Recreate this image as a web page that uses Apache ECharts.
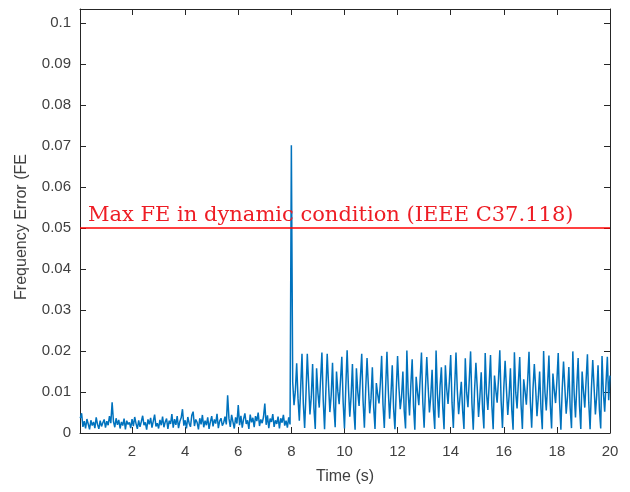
<!DOCTYPE html>
<html>
<head>
<meta charset="utf-8">
<script src="https://cdn.jsdelivr.net/npm/echarts@6/dist/echarts.min.js"></script>
<style>
  html, body { margin: 0; padding: 0; background: #fff; }
  #chart { width: 630px; height: 492px; }
</style>
</head>
<body>
<div id="chart"></div>
<script>
// sampling of the recorded trace
var T0 = 0.05;
var DT = 0.05;

// frequency error before the step (0 - 8 s)
var fePre = [
  0.0036, 0.0048, 0.0015, 0.0029, 0.0011, 0.0034, 0.0022, 0.0009, 0.0031, 0.0018,
  0.0027, 0.0012, 0.0038, 0.0021, 0.0010, 0.0030, 0.0016, 0.0025, 0.0033, 0.0013,
  0.0029, 0.0019, 0.0041, 0.0024, 0.0075, 0.0028, 0.0014, 0.0036, 0.0020, 0.0032,
  0.0011, 0.0027, 0.0018, 0.0035, 0.0009, 0.0030, 0.0021, 0.0026, 0.0012, 0.0034,
  0.0017, 0.0039, 0.0023, 0.0010, 0.0031, 0.0015, 0.0028, 0.0042, 0.0019, 0.0026,
  0.0008, 0.0033, 0.0021, 0.0037, 0.0013, 0.0029, 0.0045, 0.0016, 0.0024, 0.0011,
  0.0032, 0.0019, 0.0040, 0.0014, 0.0027, 0.0035, 0.0010, 0.0030, 0.0022, 0.0046,
  0.0013, 0.0034, 0.0020, 0.0041, 0.0012, 0.0028, 0.0037, 0.0058, 0.0018, 0.0031,
  0.0011, 0.0039, 0.0024, 0.0015, 0.0043, 0.0052, 0.0017, 0.0033, 0.0026, 0.0009,
  0.0036, 0.0021, 0.0044, 0.0014, 0.0030, 0.0019, 0.0038, 0.0010, 0.0027, 0.0041,
  0.0016, 0.0033, 0.0023, 0.0047, 0.0012, 0.0029, 0.0036, 0.0018, 0.0025, 0.0040,
  0.0021, 0.0092, 0.0035, 0.0015, 0.0044, 0.0027, 0.0011, 0.0038, 0.0023, 0.0068,
  0.0019, 0.0042, 0.0013, 0.0034, 0.0048, 0.0022, 0.0031, 0.0010, 0.0045, 0.0026,
  0.0037, 0.0014, 0.0041, 0.0029, 0.0050, 0.0017, 0.0033, 0.0024, 0.0039, 0.0072,
  0.0020, 0.0043, 0.0012, 0.0035, 0.0027, 0.0046, 0.0015, 0.0031, 0.0022, 0.0040,
  0.0011, 0.0036, 0.0025, 0.0044, 0.0018, 0.0030, 0.0013, 0.0038, 0.0021
];

// transient at the step (t = 8 s)
var feStep = [0.0702];

// frequency error after the step (8 - 20 s)
var fePost = [
  0.0125, 0.0068, 0.0102, 0.0170, 0.0085, 0.0030, 0.0110, 0.0193, 0.0072, 0.0012,
  0.0095, 0.0193, 0.0120, 0.0045, 0.0088, 0.0168, 0.0060, 0.0010, 0.0158, 0.0098,
  0.0062, 0.0130, 0.0196, 0.0080, 0.0009, 0.0105, 0.0193, 0.0118, 0.0051, 0.0092,
  0.0171, 0.0064, 0.0014, 0.0150, 0.0102, 0.0070, 0.0128, 0.0186, 0.0075, 0.0011,
  0.0112, 0.0202, 0.0110, 0.0040, 0.0090, 0.0168, 0.0058, 0.0008, 0.0158, 0.0101,
  0.0066, 0.0135, 0.0193, 0.0078, 0.0013, 0.0108, 0.0183, 0.0115, 0.0048, 0.0085,
  0.0160, 0.0062, 0.0010, 0.0122, 0.0095, 0.0072, 0.0120, 0.0188, 0.0070, 0.0012,
  0.0110, 0.0198, 0.0105, 0.0035, 0.0092, 0.0165, 0.0060, 0.0009, 0.0104, 0.0188,
  0.0112, 0.0058, 0.0088, 0.0150, 0.0054, 0.0011, 0.0201, 0.0098, 0.0043, 0.0118,
  0.0180, 0.0066, 0.0008, 0.0137, 0.0100, 0.0068, 0.0132, 0.0196, 0.0075, 0.0013,
  0.0109, 0.0185, 0.0114, 0.0050, 0.0090, 0.0154, 0.0058, 0.0010, 0.0201, 0.0096,
  0.0037, 0.0115, 0.0160, 0.0064, 0.0009, 0.0165, 0.0108, 0.0071, 0.0126, 0.0190,
  0.0074, 0.0012, 0.0112, 0.0196, 0.0103, 0.0046, 0.0087, 0.0125, 0.0055, 0.0010,
  0.0182, 0.0099, 0.0063, 0.0130, 0.0199, 0.0072, 0.0008, 0.0106, 0.0171, 0.0110,
  0.0039, 0.0089, 0.0148, 0.0060, 0.0011, 0.0195, 0.0097, 0.0056, 0.0120, 0.0190,
  0.0068, 0.0009, 0.0140, 0.0104, 0.0074, 0.0131, 0.0202, 0.0078, 0.0012, 0.0110,
  0.0176, 0.0107, 0.0044, 0.0091, 0.0158, 0.0057, 0.0008, 0.0197, 0.0099, 0.0060,
  0.0124, 0.0185, 0.0069, 0.0010, 0.0131, 0.0102, 0.0069, 0.0129, 0.0198, 0.0076,
  0.0013, 0.0108, 0.0168, 0.0109, 0.0041, 0.0088, 0.0150, 0.0059, 0.0009, 0.0200,
  0.0100, 0.0055, 0.0118, 0.0189, 0.0070, 0.0011, 0.0145, 0.0105, 0.0073, 0.0127,
  0.0195, 0.0077, 0.0008, 0.0107, 0.0174, 0.0111, 0.0047, 0.0090, 0.0161, 0.0061,
  0.0012, 0.0199, 0.0097, 0.0038, 0.0116, 0.0183, 0.0067, 0.0010, 0.0150, 0.0103,
  0.0062, 0.0128, 0.0192, 0.0074, 0.0009, 0.0108, 0.0178, 0.0112, 0.0045, 0.0092,
  0.0165, 0.0058, 0.0011, 0.0188, 0.0098, 0.0052, 0.0121, 0.0186, 0.0080, 0.0140
];

// limit line
var feLimit = 0.05;
var limitText = 'Max FE in dynamic condition (IEEE C37.118)';

// axis ticks
var xTicks = [2, 4, 6, 8, 10, 12, 14, 16, 18, 20];
var yTicks = [0, 0.01, 0.02, 0.03, 0.04, 0.05, 0.06, 0.07, 0.08, 0.09, 0.1];
var xMin = 0.04, xMax = 20;
var yMin = 0, yMax = 0.1034;

var feAll = fePre.concat(feStep, fePost);
var seriesData = feAll.map(function (v, i) {
  return [T0 + i * DT, v];
});

var axisColor = '#262626';
var labelColor = '#404040';

var chart = echarts.init(document.getElementById('chart'), null, { renderer: 'canvas' });

var tickStyle = { show: true, inside: true, length: 6, lineStyle: { color: axisColor, width: 1 } };

var option = {
  backgroundColor: '#fff',
  animation: false,
  grid: { left: 80, right: 20, top: 9, bottom: 59, containLabel: false },
  xAxis: [{
    type: 'value',
    min: xMin,
    max: xMax,
    position: 'bottom',
    name: 'Time (s)',
    nameLocation: 'middle',
    nameGap: 36,
    nameTextStyle: { fontFamily: 'Liberation Sans', fontSize: 16, color: labelColor },
    axisLine: { show: true, onZero: false, lineStyle: { color: axisColor, width: 1 } },
    axisTick: Object.assign({ customValues: xTicks }, tickStyle),
    axisLabel: { customValues: xTicks, fontFamily: 'Liberation Sans', fontSize: 15, color: labelColor, margin: 11 },
    splitLine: { show: false }
  }, {
    type: 'value',
    min: xMin,
    max: xMax,
    position: 'top',
    axisLine: { show: true, onZero: false, lineStyle: { color: axisColor, width: 1 } },
    axisTick: Object.assign({ customValues: xTicks }, tickStyle),
    axisLabel: { show: false },
    splitLine: { show: false }
  }],
  yAxis: [{
    type: 'value',
    min: yMin,
    max: yMax,
    position: 'left',
    axisLine: { show: true, onZero: false, lineStyle: { color: axisColor, width: 1 } },
    axisTick: Object.assign({ customValues: yTicks }, tickStyle),
    axisLabel: {
      customValues: yTicks,
      fontFamily: 'Liberation Sans', fontSize: 15, color: labelColor, margin: 9,
      formatter: function (v) { return String(+v.toFixed(3)); }
    },
    splitLine: { show: false }
  }, {
    type: 'value',
    min: yMin,
    max: yMax,
    position: 'right',
    axisLine: { show: true, onZero: false, lineStyle: { color: axisColor, width: 1 } },
    axisTick: Object.assign({ customValues: yTicks }, tickStyle),
    axisLabel: { show: false },
    splitLine: { show: false }
  }],
  graphic: [{
    type: 'text',
    x: 22,
    y: 227,
    rotation: Math.PI / 2,
    style: {
      text: 'Frequency Error (FE',
      fontFamily: 'Liberation Sans',
      fontSize: 16,
      fill: labelColor,
      align: 'center',
      verticalAlign: 'middle'
    }
  }],
  series: [{
    type: 'line',
    data: seriesData,
    xAxisIndex: 0,
    yAxisIndex: 0,
    showSymbol: false,
    symbol: 'none',
    lineStyle: { color: '#0072BD', width: 1.5 },
    markLine: {
      silent: true,
      symbol: 'none',
      lineStyle: { color: '#ff0000', width: 1.5, type: 'solid' },
      label: {
        show: true,
        position: 'insideStartTop',
        distance: [8, 2],
        formatter: limitText,
        fontFamily: 'DejaVu Serif',
        fontSize: 21,
        color: '#ee1c24'
      },
      data: [{ yAxis: feLimit }]
    }
  }]
};

chart.setOption(option);
</script>
</body>
</html>
